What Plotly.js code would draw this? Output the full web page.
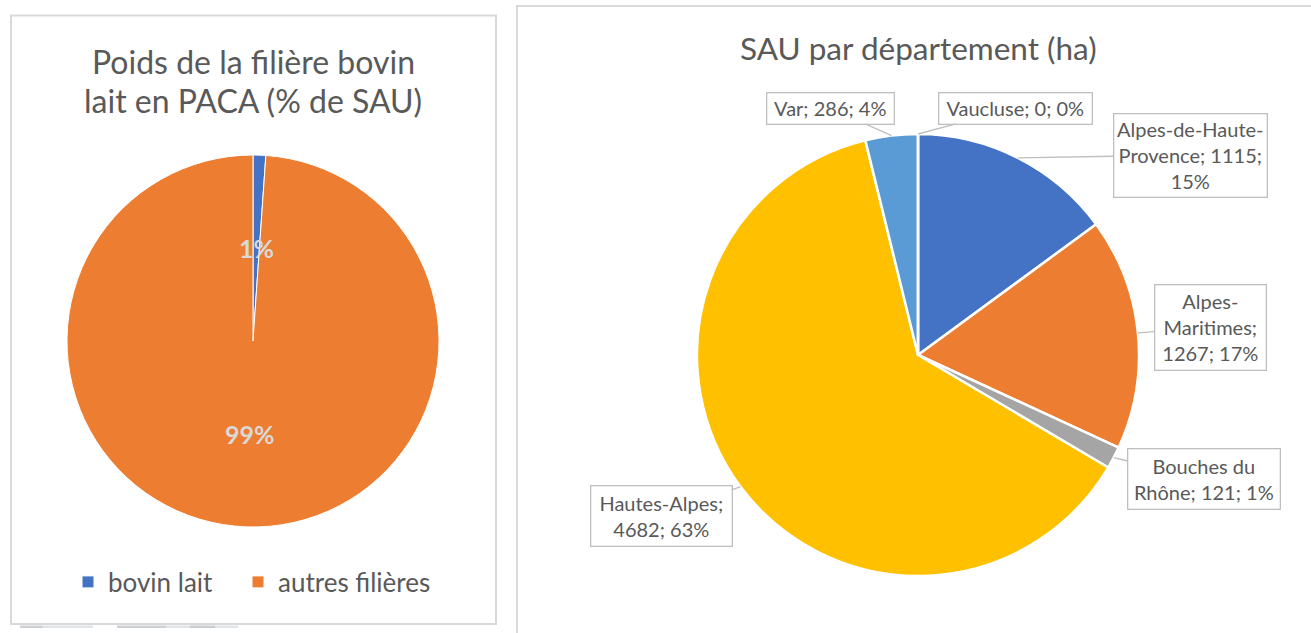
<!DOCTYPE html>
<html>
<head>
<meta charset="utf-8">
<script src="https://cdn.plot.ly/plotly-3.0.1.min.js"></script>
<style>
html,body{margin:0;padding:0;background:#fff;}
#chart{width:1311px;height:633px;}
#chart .legend .scrollbox, #chart .legend g{clip-path:none !important;}
</style>
</head>
<body>
<div id="chart"></div>
<script>
// ---------- DATA ----------
const leftTitle1 = 'Poids de la filière bovin';
const leftTitle2 = 'lait en PACA (% de SAU)';
const leftLabels = ['bovin lait', 'autres filières'];
const leftValues = [1.1, 98.9];

const rightTitle = 'SAU par département (ha)';
const rightLabels = ['Alpes-de-Haute-Provence', 'Alpes-Maritimes', 'Bouches du Rhône', 'Hautes-Alpes', 'Var', 'Vaucluse'];
const rightValues = [1115, 1267, 121, 4682, 286, 0];

// ---------- STYLE / LAYOUT ----------
const W = 1311, H = 633;
const FONT = 'Lato, "Open Sans", sans-serif';
const GREY = '#595959';
const leftColors = ['#4472C4', '#ED7D31'];
const rightColors = ['#4472C4', '#ED7D31', '#A5A5A5', '#FFC000', '#5B9BD5', '#264478'];

const leftPie = {cx: 253, cy: 341, r: 186};
const rightPie = {cx: 918, cy: 355, r: 221};

// callout boxes: centre, size, wrap length (layout only)
const boxes = [
  {cx: 1190, cy: 155, w: 156, h: 86, wrap: 15},
  {cx: 1210, cy: 327, w: 114, h: 88, wrap: 10},
  {cx: 1204, cy: 479, w: 155, h: 63, wrap: 14},
  {cx: 661,  cy: 516, w: 144, h: 63, wrap: 13},
  {cx: 830,  cy: 108, w: 130, h: 34, wrap: 30},
  {cx: 1015, cy: 108, w: 156, h: 34, wrap: 30}
];

const px = x => x / W;
const py = y => 1 - y / H;

function domainOf(p) {
  return {x: [px(p.cx - p.r), px(p.cx + p.r)], y: [py(p.cy + p.r), py(p.cy - p.r)]};
}

// largest remainder rounding of percentages
function roundPercents(vals) {
  const tot = vals.reduce((a, b) => a + b, 0);
  const raw = vals.map(v => v / tot * 100);
  const fl = raw.map(Math.floor);
  let rest = 100 - fl.reduce((a, b) => a + b, 0);
  const order = raw.map((v, i) => [v - Math.floor(v), i]).sort((a, b) => b[0] - a[0]);
  for (let k = 0; k < rest; k++) fl[order[k][1]] += 1;
  return fl;
}

// mid angles (deg, clockwise from 12 o'clock)
function midAngles(vals) {
  const tot = vals.reduce((a, b) => a + b, 0);
  let acc = 0;
  return vals.map(v => { const m = (acc + v / 2) / tot * 360; acc += v; return m; });
}

function pointAt(p, angDeg, frac) {
  const a = angDeg * Math.PI / 180;
  return {x: p.cx + p.r * frac * Math.sin(a), y: p.cy - p.r * frac * Math.cos(a)};
}

function wrapText(s, maxLen) {
  const tokens = s.match(/[^\s-]+-?|-/g);
  let lines = [], cur = '';
  let idx = 0;
  tokens.forEach(t => {
    const pos = s.indexOf(t, idx);
    const spaced = pos > 0 && s[pos - 1] === ' ';
    idx = pos + t.length;
    const cand = cur === '' ? t : cur + (spaced ? ' ' : '') + t;
    if (cur !== '' && cand.length > maxLen) { lines.push(cur); cur = t; }
    else cur = cand;
  });
  if (cur) lines.push(cur);
  return lines.join('<br>');
}

// ---------- TRACES ----------
const traces = [
  {
    type: 'pie', labels: leftLabels, values: leftValues, sort: false, direction: 'clockwise',
    marker: {colors: leftColors, line: {color: '#ffffff', width: 1}},
    textinfo: 'none', hoverinfo: 'label+percent', domain: domainOf(leftPie), showlegend: true
  },
  {
    type: 'pie', labels: rightLabels, values: rightValues, sort: false, direction: 'clockwise',
    marker: {colors: rightColors, line: {color: '#ffffff', width: 2.5}},
    textinfo: 'none', hoverinfo: 'label+value+percent', domain: domainOf(rightPie), showlegend: false
  }
];

// ---------- ANNOTATIONS ----------
const annotations = [];
annotations.push({xref: 'paper', yref: 'paper', x: px(253), y: py(61), text: leftTitle1, showarrow: false,
  xanchor: 'center', yanchor: 'middle', font: {family: FONT, size: 32, color: GREY}});
annotations.push({xref: 'paper', yref: 'paper', x: px(253), y: py(100), text: leftTitle2, showarrow: false,
  xanchor: 'center', yanchor: 'middle', font: {family: FONT, size: 32, color: GREY}});
annotations.push({xref: 'paper', yref: 'paper', x: px(918), y: py(48), text: rightTitle, showarrow: false,
  xanchor: 'center', yanchor: 'middle', font: {family: FONT, size: 31.5, color: GREY}});

// left inside labels
const lp = roundPercents(leftValues);
midAngles(leftValues).forEach((m, i) => {
  const p = pointAt(leftPie, m, 0.5);
  annotations.push({xref: 'paper', yref: 'paper', x: px(p.x), y: py(p.y), text: '<b>' + lp[i] + '%</b>',
    showarrow: false, xanchor: 'center', yanchor: 'middle', font: {family: FONT, size: 25, color: '#D9D9D9'}});
});

// right callouts
const rp = roundPercents(rightValues);
midAngles(rightValues).forEach((m, i) => {
  const head = pointAt(rightPie, m, 1.0);
  const b = boxes[i];
  const txt = wrapText(rightLabels[i] + '; ' + rightValues[i] + '; ' + rp[i] + '%', b.wrap);
  annotations.push({
    xref: 'paper', yref: 'paper', x: px(head.x), y: py(head.y),
    ax: b.cx - head.x, ay: b.cy - head.y, axref: 'pixel', ayref: 'pixel',
    showarrow: true, arrowhead: 0, arrowwidth: 1.3, arrowcolor: '#BFBFBF', standoff: 0,
    text: txt, align: 'center', width: b.w - 4, height: b.h - 4, borderpad: 0,
    bordercolor: '#BFBFBF', borderwidth: 1.3, bgcolor: '#ffffff',
    font: {family: FONT, size: 20, color: GREY}
  });
});

// ---------- SHAPES (panel frames + faint strip under left panel) ----------
const shapes = [
  {type: 'rect', xref: 'paper', yref: 'paper', x0: px(11), x1: px(496), y0: py(624), y1: py(15.5),
    line: {color: '#D9D9D9', width: 2}, fillcolor: 'rgba(0,0,0,0)', layer: 'below'},
  {type: 'rect', xref: 'paper', yref: 'paper', x0: px(517), x1: px(1330), y0: py(660), y1: py(6),
    line: {color: '#D9D9D9', width: 2}, fillcolor: 'rgba(0,0,0,0)', layer: 'below'}
];
const strip = [[20, 43, '#CDD1D5'], [43, 93, '#E1E4E7'], [117, 166, '#CDD1D5'], [166, 190, '#E1E4E7'], [190, 215, '#C9CDD1'], [215, 238, '#E1E4E7']];
strip.forEach(s => shapes.push({type: 'rect', xref: 'paper', yref: 'paper', x0: px(s[0]), x1: px(s[1]),
  y0: py(628), y1: py(625.5), line: {width: 0}, fillcolor: s[2], layer: 'below'}));

const layout = {
  width: W, height: H,
  margin: {l: 0, r: 0, t: 0, b: 0, pad: 0},
  paper_bgcolor: '#ffffff', plot_bgcolor: '#ffffff',
  showlegend: true,
  legend: {orientation: 'h', x: px(68), y: py(582), xanchor: 'left', yanchor: 'middle',
    font: {family: FONT, size: 26, color: GREY}, bgcolor: 'rgba(0,0,0,0)', itemclick: false, entrywidth: 125},
  annotations: annotations,
  shapes: shapes
};

Plotly.newPlot('chart', traces, layout, {displayModeBar: false, staticPlot: true});
</script>
</body>
</html>
